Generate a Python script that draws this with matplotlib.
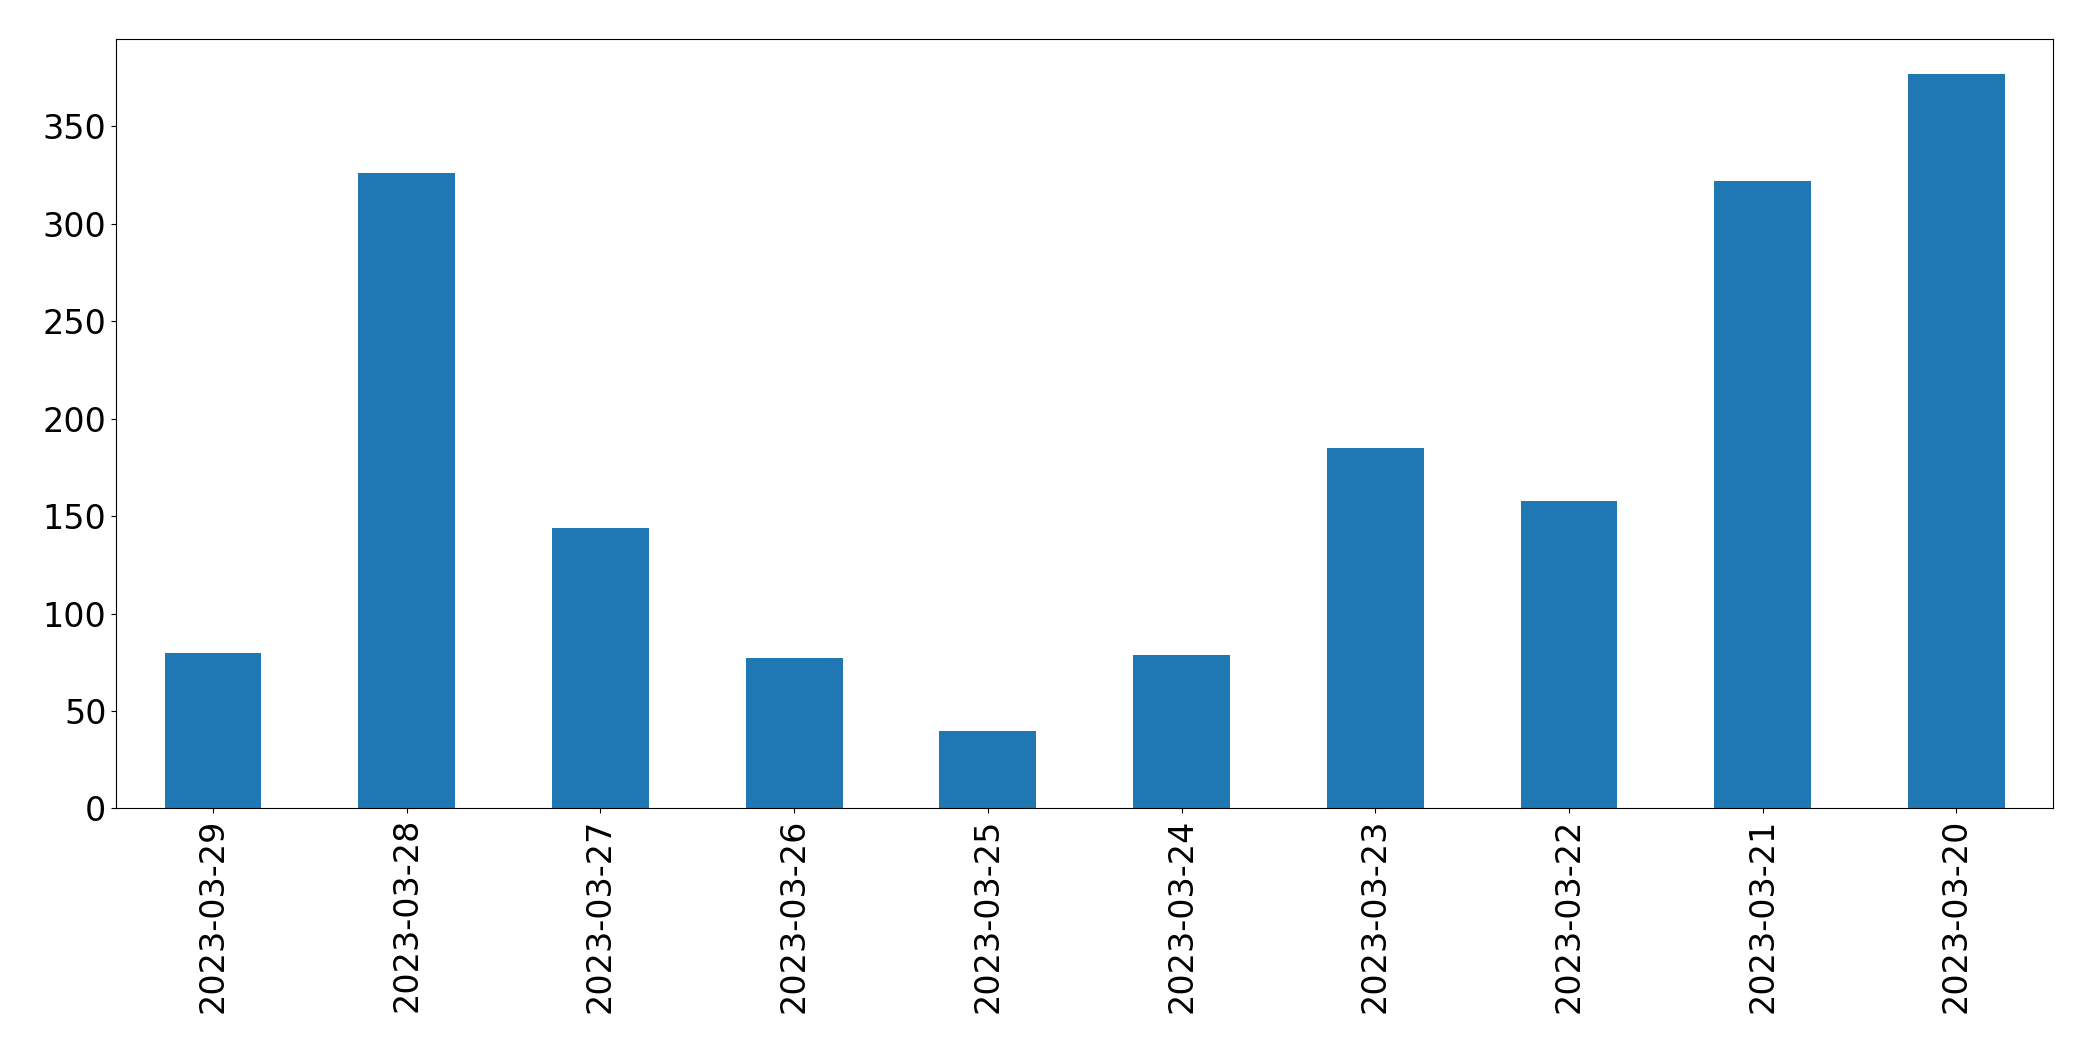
import matplotlib
matplotlib.use("Agg")
import matplotlib.pyplot as plt

dates = ["2023-03-29","2023-03-28","2023-03-27","2023-03-26","2023-03-25",
         "2023-03-24","2023-03-23","2023-03-22","2023-03-21","2023-03-20"]
counts = [80, 326, 144, 77, 40, 79, 185, 158, 322, 377]

fig = plt.figure(figsize=(20.93, 10.61), dpi=100)
ax = fig.add_axes([0.0555, 0.238, 0.9255, 0.7255])
x = range(len(dates))
ax.bar(x, counts, width=0.5, color="#1f77b4")
ax.set_xticks(list(x))
ax.set_xticklabels(dates, rotation=90)
ax.set_xlim(-0.5, len(dates) - 0.5)
ax.set_ylim(0, 395)
ax.tick_params(labelsize=24)
fig.savefig("out.png", dpi=100)
